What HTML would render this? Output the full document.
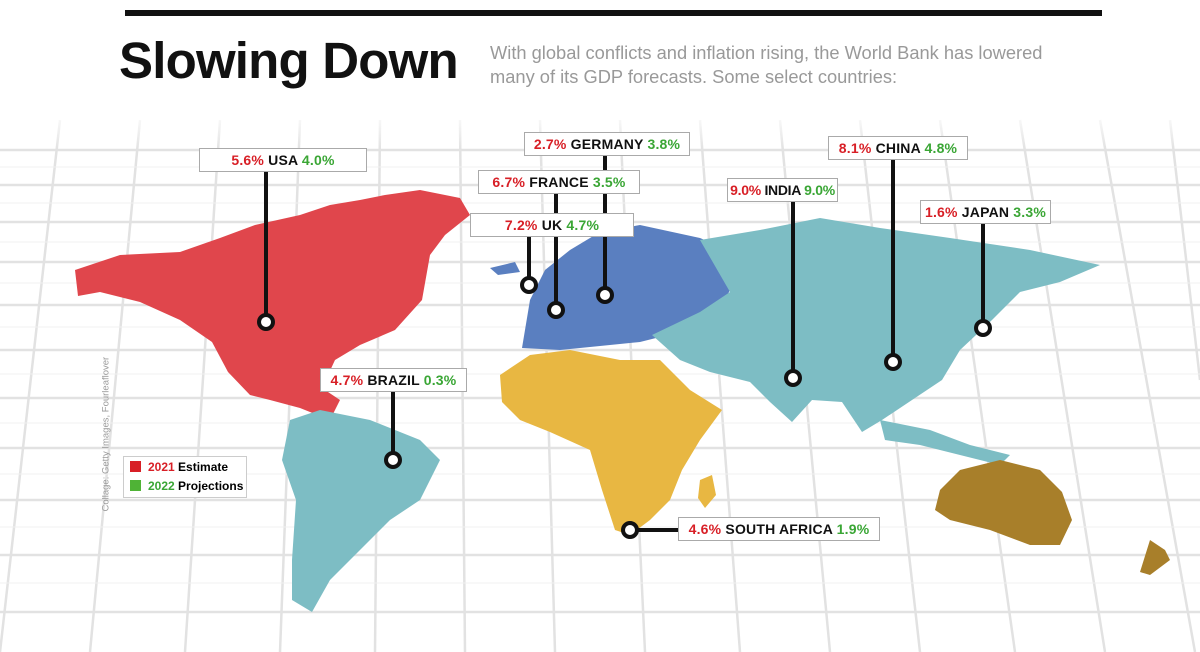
<!DOCTYPE html>
<html><head><meta charset="utf-8"><style>
body{margin:0;width:1200px;height:652px;overflow:hidden;background:#fff;font-family:"Liberation Sans",sans-serif}
.t{position:absolute}
.lb{position:absolute;height:22px;border:1px solid #aaa;background:#fff;font-size:14px;font-weight:bold;line-height:22px;text-align:center;letter-spacing:0.2px;white-space:nowrap}
.r{color:#d81f26}.g{color:#3aa635}.k{color:#111}
</style></head><body>
<svg class="t" style="left:0;top:0" width="1200" height="652">
<g stroke="#e2e2e2" stroke-width="2.5" fill="none">
<path d="M0 150H1200M0 185H1200M0 222H1200M0 262H1200M0 305H1200M0 350H1200M0 398H1200M0 448H1200M0 500H1200M0 555H1200M0 612H1200"/>
<path d="M60 120L0 652M140 120L90 652M220 120L185 652M300 120L280 652M380 120L375 652M460 120L465 652M540 120L555 652M620 120L645 652M700 120L740 652M780 120L830 652M860 120L920 652M940 120L1015 652M1020 120L1105 652M1100 120L1195 652M1170 120L1200 380"/>
</g>
<g stroke="#f0f0f0" stroke-width="1" fill="none">
<path d="M0 167H1200M0 203H1200M0 242H1200M0 283H1200M0 327H1200M0 374H1200M0 423H1200M0 474H1200M0 527H1200M0 583H1200"/>
</g>
<rect x="0" y="110" width="1200" height="40" fill="url(#f)"/>
<defs><linearGradient id="f" x1="0" y1="0" x2="0" y2="1"><stop offset="0" stop-color="#fff"/><stop offset="1" stop-color="#fff" stop-opacity="0"/></linearGradient></defs>
<rect x="125" y="10" width="977" height="6" fill="#111"/>
<path fill="#e0464c" d="M75 270L120 255L180 252L220 238L255 225L300 215L330 205L360 200L385 195L420 190L460 198L470 215L445 235L430 255L422 300L395 330L360 345L335 360L322 388L340 400L330 420L300 408L270 400L250 395L228 372L212 342L180 320L140 302L100 292L78 296Z"/>
<path fill="#7dbdc4" d="M290 420L320 410L370 420L420 440L440 460L420 500L390 520L360 550L330 580L312 612L292 600L292 560L296 500L282 460Z"/>
<path fill="#5a7fc0" d="M522 348L530 300L545 270L570 250L600 232L640 225L700 238L740 255L730 290L715 320L680 332L640 342L600 346L560 350Z"/>
<path fill="#5a7fc0" d="M490 268L515 262L520 272L498 275Z"/>
<path fill="#7dbdc4" d="M700 240L760 230L820 218L880 228L950 238L1030 250L1100 265L1060 282L1020 292L992 320L960 350L942 380L912 400L882 420L862 432L842 402L812 400L792 422L770 402L750 382L710 372L680 360L652 335L700 312L730 292Z"/>
<path fill="#7dbdc4" d="M880 420L930 430L970 445L1010 455L1000 465L960 455L920 445L885 440Z"/>
<path fill="#e8b742" d="M500 375L530 355L570 350L620 360L660 360L690 390L722 410L700 440L682 470L670 500L650 520L630 535L615 530L602 490L590 450L550 432L520 420L502 402Z"/>
<path fill="#e8b742" d="M700 480L712 475L716 495L705 508L698 498Z"/>
<path fill="#a87f2a" d="M940 490L960 470L1000 460L1040 470L1062 492L1072 520L1060 545L1030 545L990 530L950 520L935 510Z"/>
<path fill="#a87f2a" d="M1150 540L1165 550L1170 560L1150 575L1140 572Z"/>
<g stroke="#111" stroke-width="4" fill="#fff">
<path d="M266 172V322M605 156V295M556 194V310M529 237V285M893 160V362M793 202V378M983 223V328M393 392V460M630 530H678" fill="none"/>
<circle cx="266" cy="322" r="7"/><circle cx="605" cy="295" r="7"/><circle cx="556" cy="310" r="7"/><circle cx="529" cy="285" r="7"/><circle cx="893" cy="362" r="7"/><circle cx="793" cy="378" r="7"/><circle cx="983" cy="328" r="7"/><circle cx="393" cy="460" r="7"/><circle cx="630" cy="530" r="7"/>
</g>
</svg>
<div class="t" style="left:119px;top:31px;font-size:51px;font-weight:bold;color:#111;letter-spacing:-0.8px">Slowing Down</div>
<div class="t" style="left:490px;top:41px;font-size:18.3px;color:#999;line-height:24px">With global conflicts and inflation rising, the World Bank has lowered<br>many of its GDP forecasts. Some select countries:</div>
<div class="lb" style="left:199px;top:148px;width:166px"><span class="r">5.6%</span> <span class="k">USA</span> <span class="g">4.0%</span></div>
<div class="lb" style="left:524px;top:132px;width:164px"><span class="r">2.7%</span> <span class="k">GERMANY</span> <span class="g">3.8%</span></div>
<div class="lb" style="left:478px;top:170px;width:160px"><span class="r">6.7%</span> <span class="k">FRANCE</span> <span class="g">3.5%</span></div>
<div class="lb" style="left:470px;top:213px;width:162px"><span class="r">7.2%</span> <span class="k">UK</span> <span class="g">4.7%</span></div>
<div class="lb" style="left:828px;top:136px;width:138px"><span class="r">8.1%</span> <span class="k">CHINA</span> <span class="g">4.8%</span></div>
<div class="lb" style="left:727px;top:178px;width:109px;letter-spacing:-0.3px"><span class="r">9.0%</span> <span class="k">INDIA</span> <span class="g">9.0%</span></div>
<div class="lb" style="left:920px;top:200px;width:129px"><span class="r">1.6%</span> <span class="k">JAPAN</span> <span class="g">3.3%</span></div>
<div class="lb" style="left:320px;top:368px;width:145px"><span class="r">4.7%</span> <span class="k">BRAZIL</span> <span class="g">0.3%</span></div>
<div class="lb" style="left:678px;top:517px;width:200px"><span class="r">4.6%</span> <span class="k">SOUTH AFRICA</span> <span class="g">1.9%</span></div>
<div class="t" style="left:123px;top:456px;width:124px;height:42px;border:1px solid #ccc;background:#fff;font-size:12px;font-weight:bold;line-height:19px;padding:1px 0 0 6px;box-sizing:border-box">
<div><span style="display:inline-block;width:11px;height:11px;background:#d81f26;vertical-align:-1px;margin-right:7px"></span><span class="r">2021</span> Estimate</div>
<div><span style="display:inline-block;width:11px;height:11px;background:#4fb336;vertical-align:-1px;margin-right:7px"></span><span class="g">2022</span> Projections</div>
</div>
<div class="t" style="left:36px;top:436px;width:140px;font-size:9.5px;color:#999;transform:rotate(-90deg);transform-origin:center;white-space:nowrap">Collage: Getty Images, Fourleaflover</div>
</body></html>
